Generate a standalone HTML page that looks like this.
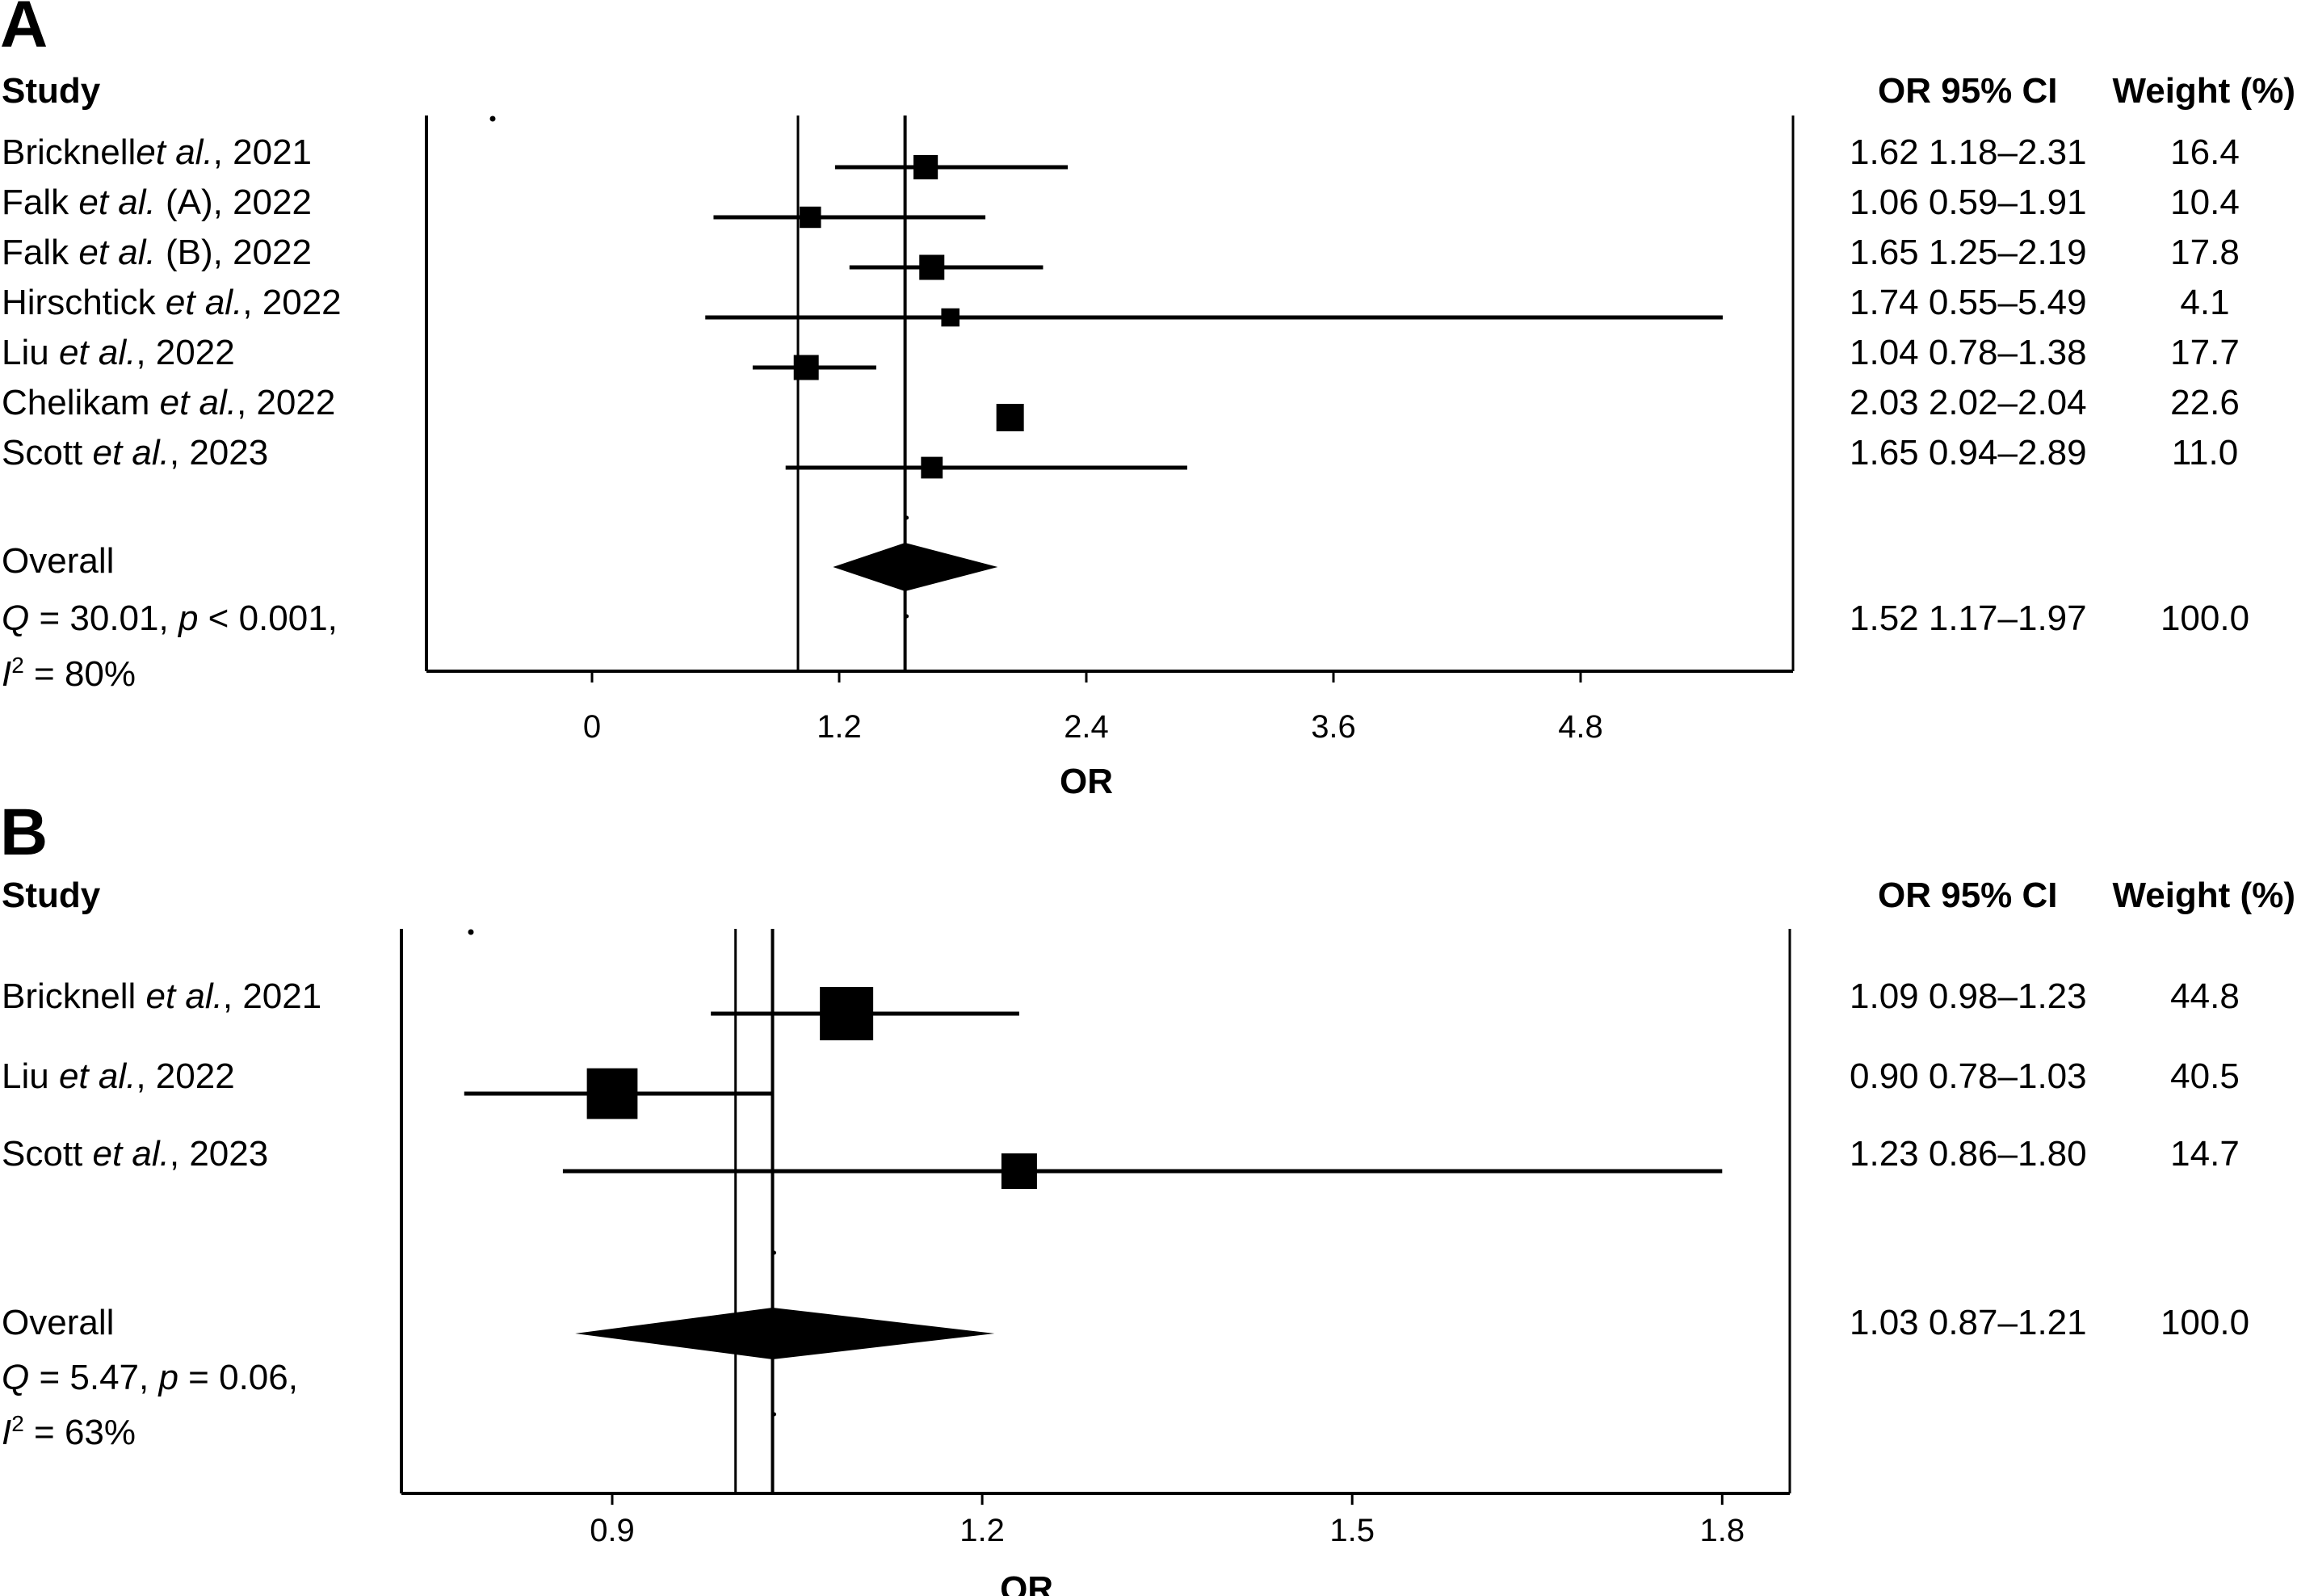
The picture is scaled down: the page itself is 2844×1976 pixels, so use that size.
<!DOCTYPE html>
<html><head><meta charset="utf-8"><style>
html,body{margin:0;padding:0;background:#fff}
svg{display:block}
text{font-family:"Liberation Sans",sans-serif;fill:#000}
.t{font-size:44px}.b{font-weight:bold}.tk{font-size:40px}
</style></head><body>
<svg id="fig" width="2844" height="1976" viewBox="0 0 2844 1976" xmlns="http://www.w3.org/2000/svg">
<text x="0" y="58" font-size="82" class="b">A</text>
<text x="2" y="127" class="t b">Study</text>
<text x="2325" y="127" class="t b">OR 95% CI</text>
<text x="2842" y="127" class="t b" text-anchor="end">Weight (%)</text>
<text x="0" y="1058" font-size="82" class="b">B</text>
<text x="2" y="1123" class="t b">Study</text>
<text x="2325" y="1123" class="t b">OR 95% CI</text>
<text x="2842" y="1123" class="t b" text-anchor="end">Weight (%)</text>
<g id="ga"></g><g id="gb"></g>
</svg>
<script>
// Panel A data
const aNames = ["Bricknell|et al.|, 2021","Falk |et al.| (A), 2022","Falk |et al.| (B), 2022","Hirschtick |et al.|, 2022","Liu |et al.|, 2022","Chelikam |et al.|, 2022","Scott |et al.|, 2023"];
const aOR = [1.62,1.06,1.65,1.74,1.04,2.03,1.65];
const aLo = [1.18,0.59,1.25,0.55,0.78,2.02,0.94];
const aHi = [2.31,1.91,2.19,5.49,1.38,2.04,2.89];
const aWeight = [16.4,10.4,17.8,4.1,17.7,22.6,11.0];
const aOverall = [1.52,1.17,1.97];
const aTicks = [0,1.2,2.4,3.6,4.8];
const aStats = ["30.01","< 0.001","80%"];
// Panel B data
const bNames = ["Bricknell |et al.|, 2021","Liu |et al.|, 2022","Scott |et al.|, 2023"];
const bOR = [1.09,0.90,1.23];
const bLo = [0.98,0.78,0.86];
const bHi = [1.23,1.03,1.80];
const bWeight = [44.8,40.5,14.7];
const bOverall = [1.03,0.87,1.21];
const bTicks = [0.9,1.2,1.5,1.8];
const bStats = ["5.47","= 0.06","63%"];

const NS="http://www.w3.org/2000/svg";
function mk(parent,tag,attrs){const e=document.createElementNS(NS,tag);for(const k in attrs)e.setAttribute(k,attrs[k]);parent.appendChild(e);return e;}
function fmt(v){return v.toFixed(2);}

function drawPanel(g,cfg){
  const sx=v=>cfg.x0+(v-cfg.v0)*cfg.ppu;
  // frame
  let l=mk(g,'line',{x1:cfg.left,y1:cfg.top,x2:cfg.left,y2:cfg.bottom,stroke:'#000','stroke-width':4});
  
  
  l=mk(g,'line',{x1:cfg.right,y1:cfg.top,x2:cfg.right,y2:cfg.bottom,stroke:'#000','stroke-width':3});
  
  
  l=mk(g,'line',{x1:cfg.left,y1:cfg.bottom,x2:cfg.right,y2:cfg.bottom,stroke:'#000','stroke-width':4});
  
  
  cfg.ticks.forEach(t=>{
    const tl=mk(g,'line',{x1:sx(t),y1:cfg.bottom,x2:sx(t),y2:cfg.bottom+14,stroke:'#000','stroke-width':3});
    
    
    const tt=mk(g,'text',{x:sx(t),y:cfg.tickY,'text-anchor':'middle',class:'tk'});
    tt.textContent=cfg.tickFmt(t);
    
    
  });
  const ax=mk(g,'text',{x:sx(cfg.axisMid),y:cfg.orY,'text-anchor':'middle',class:'t b'});
  ax.textContent='OR';
  
  
  // reference lines
  l=mk(g,'line',{x1:sx(1),y1:cfg.top,x2:sx(1),y2:cfg.bottom,stroke:'#000','stroke-width':3});
  
  
  l=mk(g,'line',{x1:sx(cfg.overall[0]),y1:cfg.top,x2:sx(cfg.overall[0]),y2:cfg.bottom,stroke:'#000','stroke-width':4});
  
  
  const dot=mk(g,'circle',{cx:cfg.dotX,cy:cfg.top+4,r:3.5,fill:'#000'});
  
  
  const maxW=Math.max(...cfg.weight);
  cfg.names.forEach((n,i)=>{
    const y=cfg.rowY[i];
    const ci=mk(g,'line',{x1:sx(cfg.lo[i]),y1:y,x2:sx(cfg.hi[i]),y2:y,stroke:'#000','stroke-width':5});
    
    
    const s=cfg.sizeFn(cfg.weight[i],maxW);
    const sq=mk(g,'rect',{x:sx(cfg.or[i])-s/2,y:y-s/2,width:s,height:s,fill:'#000'});
    
    
    const parts=n.split('|');
    const tx=mk(g,'text',{x:2,y:y-4+cfg.lblOff,class:'t'});
    
    
    parts.forEach((p,k)=>{const ts=mk(tx,'tspan',{});if(k===1)ts.setAttribute('font-style','italic');ts.textContent=p;});
    const v=mk(g,'text',{x:cfg.valX,y:y-4+cfg.lblOff,class:'t'});
    v.textContent=fmt(cfg.or[i])+' '+fmt(cfg.lo[i])+'\u2013'+fmt(cfg.hi[i]);
    
    
    const w=mk(g,'text',{x:2730,y:y-4+cfg.lblOff,'text-anchor':'middle',class:'t'});
    w.textContent=cfg.weight[i].toFixed(1);
    
    
  });
  // overall diamond
  const dy=cfg.diamondY,h=cfg.diamondH/2,o=cfg.overall;
  const dm=mk(g,'polygon',{points:`${sx(o[1])},${dy} ${sx(o[0])},${dy-h} ${sx(o[2])},${dy} ${sx(o[0])},${dy+h}`,fill:'#000'});
  
  
  [cfg.diamondY-cfg.dotGap,cfg.diamondY+cfg.dotGap].forEach(yy=>{
    const c=mk(g,'circle',{cx:sx(o[0])+2,cy:yy,r:2.5,fill:'#000'});
    
    
  });
  let t=mk(g,'text',{x:2,y:cfg.ovY[0],class:'t'});t.textContent='Overall';
  
  
  t=mk(g,'text',{x:2,y:cfg.ovY[1],class:'t'});
  
  
  let ts=mk(t,'tspan',{'font-style':'italic'});ts.textContent='Q';
  ts=mk(t,'tspan',{});ts.textContent=' = '+cfg.stats[0]+', ';
  ts=mk(t,'tspan',{'font-style':'italic'});ts.textContent='p';
  ts=mk(t,'tspan',{});ts.textContent=' '+cfg.stats[1]+',';
  t=mk(g,'text',{x:2,y:cfg.ovY[2],class:'t'});
  
  
  ts=mk(t,'tspan',{'font-style':'italic'});ts.textContent='I';
  ts=mk(t,'tspan',{'font-size':'28','dy':'-16'});ts.textContent='2';
  ts=mk(t,'tspan',{'dy':'16'});ts.textContent=' = '+cfg.stats[2];
  const ov=mk(g,'text',{x:cfg.valX,y:cfg.ovValY,class:'t'});
  ov.textContent=fmt(o[0])+' '+fmt(o[1])+'\u2013'+fmt(o[2]);
  
  
  const ow=mk(g,'text',{x:2730,y:cfg.ovValY,'text-anchor':'middle',class:'t'});
  ow.textContent='100.0';
  
  
}

const rowsA=aNames.map((_,i)=>207+i*62);
drawPanel(document.getElementById('ga'),{
  names:aNames,or:aOR,lo:aLo,hi:aHi,weight:aWeight,overall:aOverall,ticks:aTicks,stats:aStats,
  v0:0,x0:733,ppu:255,left:528,right:2220,top:143,bottom:831,tickY:913,orY:982,axisMid:2.4,
  tickFmt:t=>String(t),dotX:610,rowY:rowsA,lblOff:0,valX:2290,
  sizeFn:(w,m)=>20+14*(w/m),diamondY:702,diamondH:60,dotGap:61,
  ovY:[709,780,849],ovValY:780
});
drawPanel(document.getElementById('gb'),{
  names:bNames,or:bOR,lo:bLo,hi:bHi,weight:bWeight,overall:bOverall,ticks:bTicks,stats:bStats,
  v0:0.9,x0:758,ppu:1527,left:497,right:2216,top:1150,bottom:1849,tickY:1908,orY:1982,axisMid:1.236,
  tickFmt:t=>t.toFixed(1),dotX:583,rowY:[1255,1354,1450],lblOff:-3,valX:2290,
  sizeFn:(w,m)=>Math.max(44,66*Math.sqrt(w/m)),diamondY:1651,diamondH:64,dotGap:100,
  ovY:[1652,1720,1788],ovValY:1652
});
</script>
</body></html>
